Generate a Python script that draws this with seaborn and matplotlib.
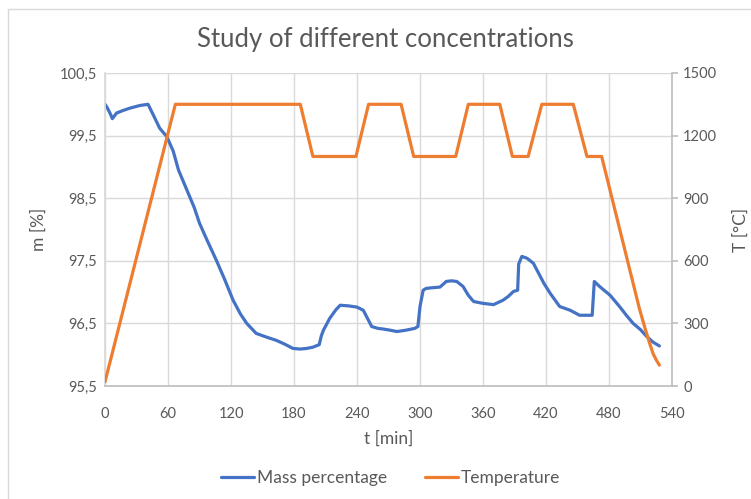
import matplotlib
matplotlib.use("Agg")
import matplotlib.pyplot as plt
from matplotlib.patches import Rectangle
from matplotlib.ticker import FuncFormatter
import seaborn as sns
import pandas as pd

# Mass percentage over time
mass_t = [0, 2, 5, 7, 11, 17, 24, 33, 41, 46,
          52, 59, 65, 70, 78, 85, 90, 98, 106, 114,
          122, 129, 135, 144, 154, 163, 171, 179, 186, 192,
          198, 204, 206, 208, 214, 220, 224, 232, 240, 246,
          250, 254, 260, 265, 272, 278, 286, 295, 298, 300,
          303, 306, 312, 319, 325, 330, 335, 341, 346, 351,
          360, 370, 379, 384, 389, 393, 394, 397, 402, 408,
          413, 418, 424, 433, 443, 452, 458, 464, 465, 466,
          471, 476, 481, 490, 497, 503, 510, 516, 522, 528]
mass = [100.0, 99.95, 99.85, 99.77, 99.86, 99.9, 99.94, 99.98, 100.0, 99.83,
        99.62, 99.48, 99.25, 98.95, 98.63, 98.35, 98.1, 97.8, 97.51, 97.2,
        96.87, 96.65, 96.5, 96.34, 96.28, 96.23, 96.17, 96.1, 96.09, 96.1,
        96.12, 96.16, 96.3, 96.39, 96.58, 96.72, 96.79, 96.78, 96.76, 96.71,
        96.58, 96.45, 96.42, 96.41, 96.39, 96.37, 96.39, 96.42, 96.45, 96.77,
        97.03, 97.06, 97.07, 97.08, 97.17, 97.18, 97.17, 97.09, 96.95, 96.85,
        96.82, 96.8, 96.87, 96.93, 97.01, 97.03, 97.45, 97.57, 97.54, 97.46,
        97.3, 97.14, 96.98, 96.77, 96.71, 96.63, 96.63, 96.63, 96.9, 97.17,
        97.09, 97.02, 96.95, 96.77, 96.62, 96.5, 96.4, 96.29, 96.2, 96.14]

# Furnace temperature program
temp_t = [0, 67, 186, 198, 239, 251, 282, 294, 334, 346, 376, 388, 403,
          416, 446, 459, 473, 509, 515, 519, 522, 525, 528]
temp = [20, 1350, 1350, 1100, 1100, 1350, 1350, 1100, 1100, 1350, 1350,
        1100, 1100, 1350, 1350, 1100, 1100, 370, 265, 200, 155, 125, 100]

x_ticks = list(range(0, 541, 60))
m_ticks = [95.5, 96.5, 97.5, 98.5, 99.5, 100.5]
t_ticks = [0, 300, 600, 900, 1200, 1500]

BLUE = "#4472C4"
ORANGE = "#ED7D31"
TEXT = "#595959"
GRID = "#D9D9D9"
SPINE = "#BFBFBF"

sns.set_theme(style="white")
plt.rcParams["font.family"] = ["Lato", "DejaVu Sans"]

fig = plt.figure(figsize=(7.51, 4.99), dpi=100)
ax = fig.add_axes([105 / 751, 1 - 386 / 499, (672 - 105) / 751, (386 - 73) / 499])
ax2 = ax.twinx()

df_m = pd.DataFrame({"t": mass_t, "m": mass})
df_T = pd.DataFrame({"t": temp_t, "T": temp})

sns.lineplot(data=df_m, x="t", y="m", ax=ax, color=BLUE, lw=2.3,
             estimator=None, sort=False, label="Mass percentage", legend=False)
sns.lineplot(data=df_T, x="t", y="T", ax=ax2, color=ORANGE, lw=2.3,
             estimator=None, sort=False, label="Temperature", legend=False)

ax.set_xlim(0, 540)
ax.set_ylim(95.5, 100.5)
ax2.set_ylim(0, 1500)
ax.set_xticks(x_ticks)
ax.set_yticks(m_ticks)
ax2.set_yticks(t_ticks)
ax.yaxis.set_major_formatter(FuncFormatter(lambda v, _: f"{v:.1f}".replace(".", ",")))

ax.grid(True, color=GRID, lw=1)
ax2.grid(False)
ax.set_axisbelow(True)

for a in (ax, ax2):
    for s in a.spines.values():
        s.set_visible(False)
ax.spines["bottom"].set_visible(True)
ax.spines["bottom"].set_color(SPINE)
ax.spines["left"].set_visible(True)
ax.spines["left"].set_color(GRID)
ax2.spines["right"].set_visible(True)
ax2.spines["right"].set_color(SPINE)

ax.tick_params(axis="y", colors=TEXT, labelsize=10.5, length=0, pad=6)
ax.tick_params(axis="x", colors=TEXT, labelsize=10.5, length=0, pad=15)
ax2.tick_params(axis="y", colors=TEXT, labelsize=10.5, length=4, color=SPINE,
                direction="out", pad=4)

ax.set_xlabel("t [min]", color=TEXT, fontsize=12.5, labelpad=7)
ax.set_ylabel("m [%]", color=TEXT, fontsize=12.5, labelpad=9)
ax2.set_ylabel("T [°C]", color=TEXT, fontsize=12.5, labelpad=11)

fig.text(0.513, 1 - 40 / 499, "Study of different concentrations",
         ha="center", va="center", color=TEXT, fontsize=18.5)

h1, l1 = ax.get_legend_handles_labels()
h2, l2 = ax2.get_legend_handles_labels()
fig.legend(h1 + h2, l1 + l2, loc="center", bbox_to_anchor=(0.52, 1 - 478 / 499),
           ncol=2, frameon=False, fontsize=12.5, labelcolor=TEXT,
           handlelength=1.9, handletextpad=0.15, columnspacing=2.2)

fig.patches.append(Rectangle((8 / 751, -0.1), 1.2, 1 - 9 / 499 + 0.1,
                             transform=fig.transFigure, fill=False,
                             edgecolor=GRID, lw=1))

fig.savefig("out.png", dpi=100)
